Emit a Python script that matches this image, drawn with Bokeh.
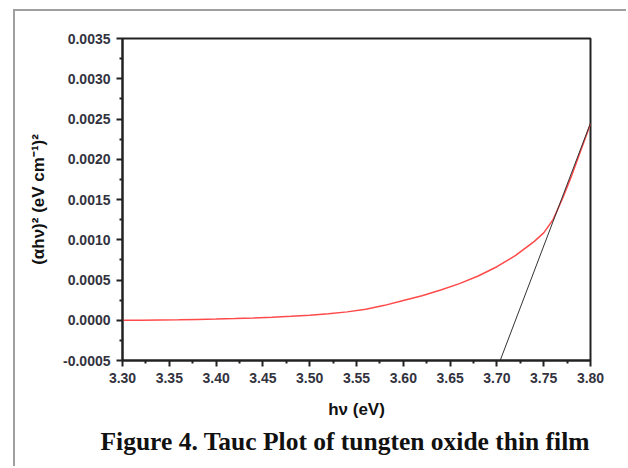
from bokeh.plotting import figure
from bokeh.embed import file_html
from bokeh.resources import INLINE
from bokeh.models import FixedTicker, NumeralTickFormatter, Range1d, Title

# ---- data ----
hv = [3.30, 3.32, 3.34, 3.36, 3.38, 3.40, 3.42, 3.44, 3.46, 3.48, 3.50,
      3.52, 3.54, 3.56, 3.58, 3.60, 3.62, 3.64, 3.66, 3.68, 3.70, 3.72,
      3.74, 3.75, 3.76, 3.77, 3.78, 3.79, 3.80]
ahv2 = [0.0, 0.000001, 0.000003, 0.000006, 0.000010, 0.000015, 0.000021,
        0.000029, 0.000038, 0.000049, 0.000063, 0.000081, 0.000104,
        0.000138, 0.000185, 0.000245, 0.000305, 0.000375, 0.000455,
        0.000550, 0.000665, 0.000805, 0.000980, 0.001085, 0.001250,
        0.001510, 0.001800, 0.002120, 0.002440]
fit_x = [3.7035, 3.80]
fit_y = [-0.0005, 0.00245]

x_ticks = [3.30, 3.35, 3.40, 3.45, 3.50, 3.55, 3.60, 3.65, 3.70, 3.75, 3.80]
x_minor = [3.325, 3.375, 3.425, 3.475, 3.525, 3.575, 3.625, 3.675, 3.725, 3.775]
y_ticks = [-0.0005, 0.0, 0.0005, 0.0010, 0.0015, 0.0020, 0.0025, 0.0030, 0.0035]
y_minor = [-0.00025, 0.00025, 0.00075, 0.00125, 0.00175, 0.00225, 0.00275, 0.00325]

x_label = "hν (eV)"
y_label = "(αhν)² (eV cm⁻¹)²"
caption = "Figure 4. Tauc Plot of tungten oxide thin film"

p = figure(width=613, height=457, output_backend="svg", toolbar_location=None,
           x_range=Range1d(3.30, 3.80), y_range=Range1d(-0.0005, 0.0035),
           min_border_left=107, min_border_right=38, min_border_top=27,
           min_border_bottom=108,
           styles={"margin-left": "13px", "margin-top": "9px",
                   "border-left": "2px solid #a0a0a0",
                   "border-top": "2px solid #a0a0a0"})
p.grid.visible = False
p.background_fill_color = "white"
p.border_fill_color = "white"
p.outline_line_color = "#222222"
p.outline_line_width = 2
p.outline_line_alpha = 1.0

p.line(hv, ahv2, line_color="#ff4a4a", line_width=1.5)
p.line(fit_x, fit_y, line_color="#333333", line_width=1)

tick_color = "#333340"
for ax, ticks, minor, fmt in ((p.xaxis[0], x_ticks, x_minor, "0.00"),
                              (p.yaxis[0], y_ticks, y_minor, "0.0000")):
    ax.ticker = FixedTicker(ticks=ticks, minor_ticks=minor)
    ax.formatter = NumeralTickFormatter(format=fmt)
    ax.axis_line_color = "#222222"
    ax.axis_line_width = 2
    ax.major_tick_line_color = "#222222"
    ax.major_tick_line_width = 2
    ax.minor_tick_line_color = "#222222"
    ax.minor_tick_line_width = 2
    ax.major_tick_in = 0
    ax.major_tick_out = 6
    ax.minor_tick_in = 0
    ax.minor_tick_out = 3
    ax.major_label_text_font = "Liberation Sans"
    ax.major_label_text_font_style = "bold"
    ax.major_label_text_font_size = "14px"
    ax.major_label_text_color = tick_color
    ax.major_label_standoff = 6
    ax.axis_label_text_font = "Liberation Sans"
    ax.axis_label_text_font_style = "bold"
    ax.axis_label_text_font_size = "17px"
    ax.axis_label_text_color = "#111111"

p.xaxis[0].axis_label = x_label
p.xaxis[0].axis_label_standoff = 14
p.yaxis[0].axis_label = y_label
p.yaxis[0].axis_label_standoff = 12

cap = Title(text=caption, align="left", offset=-22, standoff=7,
            text_font="Liberation Serif", text_font_style="bold",
            text_font_size="25.5px", text_color="#111111")
p.add_layout(cap, "below")

open("out.html", "w").write(file_html(p, INLINE))
